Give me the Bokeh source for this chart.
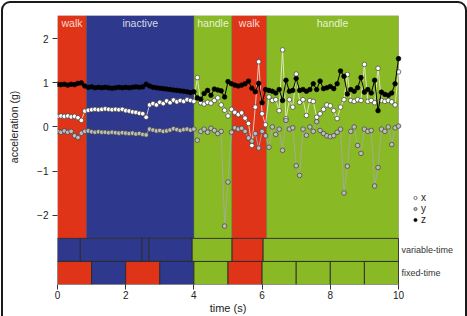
from bokeh.plotting import figure
from bokeh.models import (Range1d, FixedTicker, Legend, LegendItem, LinearAxis,
                          ColumnDataSource, GlobalInlineStyleSheet)
from bokeh.core.properties import value
from bokeh.embed import file_html
from bokeh.resources import INLINE

# --- sampled accelerometer trace (10 Hz, 0..10 s) ---------------------------
sample_rate_hz = 10
acc_x = [0.24, 0.25, 0.24, 0.25, 0.23, 0.24, 0.21, 0.15, 0.36,
         0.38, 0.39, 0.40, 0.39, 0.40, 0.41, 0.40, 0.39, 0.40, 0.39, 0.40,
         0.37, 0.36, 0.34, 0.33, 0.31, 0.30, 0.22, 0.50, 0.53, 0.50, 0.56,
         0.53, 0.59, 0.55, 0.61, 0.57, 0.60, 0.58, 0.62, 0.60,
         0.58, 1.12, 0.55, 0.52, 0.56, 0.54, 0.60, 0.66, 0.50, 0.38, 0.25,
         0.40, 0.33, 0.28, 0.32, 0.20, 0.08, -0.42, 0.45, 1.48, 0.30, 0.05,
         0.68, 0.60, 0.62, 0.37, 1.75, 0.19, 0.62, 0.45, 1.20, 0.56,
         0.62, 0.26, 0.60, 0.58, 0.22, 0.30, 0.40, 0.50, 0.48, 0.37,
         0.19, 0.45, 0.62, 1.19, 0.60, 0.58, 0.62, 0.60, 1.42, 0.58,
         0.60, 0.55, 1.33, 0.60, 0.58, 0.60, 0.57, 0.50, 1.25]
acc_y = [-0.10, -0.12, -0.09, -0.12, -0.10, -0.20, -0.24, -0.14, -0.10,
         -0.09, -0.11, -0.12, -0.11, -0.12, -0.12, -0.13, -0.12, -0.13, -0.14,
         -0.13, -0.14, -0.15, -0.14, -0.16, -0.15, -0.17, -0.18, -0.05, -0.07,
         -0.09, -0.08, -0.10, -0.09, -0.07, -0.04, -0.06, -0.08, -0.06, -0.05,
         -0.07,
         -0.05, -0.30, -0.10, -0.05, -0.12, -0.03, -0.08, -0.15, -0.10, -2.25,
         -1.25,
         -0.12, -0.02, -0.05, -0.03, -0.10, -0.25, -0.32, -0.15, -0.48, -0.10,
         -0.20,
         -0.46, 0.00, -0.17, -0.05, -0.53, 0.15, -0.05, -0.02, -0.88, -1.10,
         -0.05, -0.19, 0.00, -0.10, 0.12, -0.08, -0.15, -0.20, -0.22, -0.20,
         -0.12, -0.05, -1.50, -0.89, -0.10, 0.00, -0.42, -0.60, -0.05, -0.10,
         -0.08, -1.34, -0.92, -0.05, -0.10, 0.00, -0.40, -0.02, 0.02]
acc_z = [0.97, 0.96, 0.97, 0.95, 0.97, 0.96, 0.99, 1.00, 0.93,
         0.90, 0.91, 0.89, 0.90, 0.89, 0.90, 0.89, 0.88, 0.89, 0.90, 0.89,
         0.90, 0.89, 0.90, 0.91, 0.90, 0.91, 0.97, 0.93, 0.90, 0.89, 0.88,
         0.87, 0.86, 0.85, 0.84, 0.83, 0.82, 0.81, 0.80, 0.78,
         0.80, 0.66, 0.63, 0.76, 0.83, 0.72, 0.86, 0.84, 0.82, 0.68, 1.03,
         0.98, 0.95, 0.93, 0.95, 0.98, 1.04, 0.88, 0.80, 0.99, 0.55, 0.85,
         0.83, 0.81, 0.77, 0.85, 0.60, 1.06, 0.81, 0.83, 1.10, 0.83,
         0.85, 0.81, 0.85, 0.98, 0.85, 1.04, 0.87, 0.89, 0.92, 0.87,
         0.98, 1.27, 1.15, 0.75, 0.85, 0.81, 0.89, 1.12, 0.79, 0.85,
         0.77, 1.06, 0.37, 0.79, 0.74, 0.72, 0.77, 0.98, 1.55]
time_s = [i / sample_rate_hz for i in range(len(acc_x))]

# --- behaviour segmentations ---------------------------------------------
activity_labels = ["walk", "inactive", "handle", "walk", "handle"]
activity_start = [0.0, 0.85, 4.0, 5.12, 6.13]
activity_end = [0.85, 4.0, 5.12, 6.13, 10.0]

variable_labels = ["inactive", "inactive", "inactive", "inactive",
                   "handle", "walk", "handle"]
variable_start = [0.0, 0.67, 2.48, 2.68, 3.95, 5.12, 6.03]
variable_end = [0.67, 2.48, 2.68, 3.95, 5.12, 6.03, 10.0]

fixed_labels = ["walk", "inactive", "walk", "inactive", "handle",
                "walk", "handle", "handle", "handle", "handle"]
fixed_start = [0, 1, 2, 3, 4, 5, 6, 7, 8, 9]
fixed_end = [1, 2, 3, 4, 5, 6, 7, 8, 9, 10]

strip_names = ["variable-time", "fixed-time"]
y_ticks = [-2, -1, 0, 1, 2]
x_ticks = [0, 2, 4, 6, 8, 10]

palette = {"walk": "#e03418", "inactive": "#2e388c", "handle": "#89ba26"}
FONT = "Liberation Sans"
INK = "#222222"

# vertical layout in data units: main panel, then two strips below it
T_END = 10.0
MAIN_TOP, MAIN_BOTTOM = 2.53, -2.53
STRIP_H = 0.523
strip1_top, strip1_bot = MAIN_BOTTOM, MAIN_BOTTOM - STRIP_H
strip2_top, strip2_bot = strip1_bot, strip1_bot - STRIP_H

# the plotting area runs on past 10 s to hold the strip names and the key
p = figure(width=467, height=316, output_backend="svg", toolbar_location=None,
           x_range=Range1d(0, 12.023), y_range=Range1d(strip2_bot, MAIN_TOP),
           min_border_left=57, min_border_right=0, min_border_top=15,
           min_border_bottom=32)
p.outline_line_color = None
p.grid.visible = False
p.background_fill_color = "white"

p.quad(left=activity_start, right=activity_end, top=MAIN_TOP, bottom=MAIN_BOTTOM,
       fill_color=[palette[a] for a in activity_labels],
       line_color="#333333", line_alpha=0.35, line_width=0.8)
p.quad(left=variable_start, right=variable_end, top=strip1_top, bottom=strip1_bot,
       fill_color=[palette[a] for a in variable_labels],
       line_color="#2a2a2a", line_width=0.9)
p.quad(left=fixed_start, right=fixed_end, top=strip2_top, bottom=strip2_bot,
       fill_color=[palette[a] for a in fixed_labels],
       line_color="#2a2a2a", line_width=0.9)

src = ColumnDataSource(dict(t=time_s, ax=acc_x, ay=acc_y, az=acc_z))

p.line("t", "ax", source=src, line_color="#f6f6ea", line_alpha=0.75, line_width=1)
rx = p.scatter("t", "ax", source=src, size=4.6, fill_color="white",
               line_color="#3c3c3c", line_width=0.7)
p.line("t", "ay", source=src, line_color="#a8a8a8", line_alpha=0.85, line_width=1)
ry = p.scatter("t", "ay", source=src, size=4.6, fill_color="#bdbdbd",
               line_color="#3c3c3c", line_width=0.7)
p.line("t", "az", source=src, line_color="black", line_width=1)
rz = p.scatter("t", "az", source=src, size=4.6, fill_color="black",
               line_color="black", line_width=0.7)

# activity names along the top of the main panel
mid = [(a + b) / 2 for a, b in zip(activity_start, activity_end)]
p.text(x=mid, y=[2.35] * len(mid), text=activity_labels,
       text_font=value(FONT), text_font_size="10.5px", text_color="white",
       text_alpha=0.82, text_align="center", text_baseline="middle")

# strip names to the right of the strips
p.text(x=[T_END + 0.09] * 2,
       y=[(strip1_top + strip1_bot) / 2, (strip2_top + strip2_bot) / 2],
       text=strip_names, text_font=value(FONT), text_font_size="9px",
       text_color="#333333", text_align="left", text_baseline="middle")

# y axis
ya = p.yaxis[0]
ya.ticker = FixedTicker(ticks=y_ticks)
ya.major_label_overrides = {-1: "\u22121", -2: "\u22122"}
ya.axis_line_color = None
ya.major_tick_in = 0
ya.major_tick_out = 5
ya.minor_tick_line_color = None
ya.major_tick_line_color = "#333333"
ya.major_label_standoff = 4
ya.major_label_text_font = FONT
ya.major_label_text_font_size = "10px"
ya.major_label_text_color = INK

# y title, centred on the acceleration panel
ytitle = LinearAxis(ticker=FixedTicker(ticks=[0]),
                    major_label_overrides={0: "acceleration (g)"},
                    major_label_orientation="vertical",
                    axis_line_color=None, major_tick_line_color=None,
                    minor_tick_line_color=None, major_tick_out=0,
                    major_tick_in=0, major_label_standoff=14,
                    major_label_text_font=FONT,
                    major_label_text_font_size="10.5px",
                    major_label_text_color=INK)
p.add_layout(ytitle, "left")

# x axis
xa = p.xaxis[0]
xa.ticker = FixedTicker(ticks=x_ticks)
xa.axis_line_color = None
xa.major_tick_in = 0
xa.major_tick_out = 5
xa.minor_tick_line_color = None
xa.major_tick_line_color = "#333333"
xa.major_label_standoff = 1
xa.major_label_text_font = FONT
xa.major_label_text_font_size = "10px"
xa.major_label_text_color = INK

xtitle = LinearAxis(ticker=FixedTicker(ticks=[5]),
                    major_label_overrides={5: "time (s)"},
                    axis_line_color=None, major_tick_line_color=None,
                    minor_tick_line_color=None, major_tick_out=0,
                    major_tick_in=0, major_label_standoff=0,
                    major_label_text_font=FONT,
                    major_label_text_font_size="11px",
                    major_label_text_color=INK)
p.add_layout(xtitle, "below")

legend = Legend(items=[LegendItem(label="x", renderers=[rx]),
                       LegendItem(label="y", renderers=[ry]),
                       LegendItem(label="z", renderers=[rz])],
                location=(354, 59), orientation="vertical",
                background_fill_alpha=0, border_line_alpha=0,
                padding=0, margin=0, spacing=-3, glyph_width=8,
                glyph_height=9, label_height=9, label_standoff=2,
                label_text_font=FONT, label_text_font_size="10px",
                label_text_line_height=0.85, label_text_color=INK)
p.add_layout(legend)

# rounded frame drawn around the page, open at the bottom edge
p.stylesheets = [GlobalInlineStyleSheet(css="""
body::before {
  content: "";
  position: fixed;
  left: 1px; top: 1px;
  width: 466px; height: 400px;
  box-sizing: border-box;
  border: 2px solid #1a1a1a;
  border-radius: 9px;
  background: transparent;
  pointer-events: none;
  z-index: 100;
}
""")]

open("out.html", "w").write(file_html(p, INLINE))
